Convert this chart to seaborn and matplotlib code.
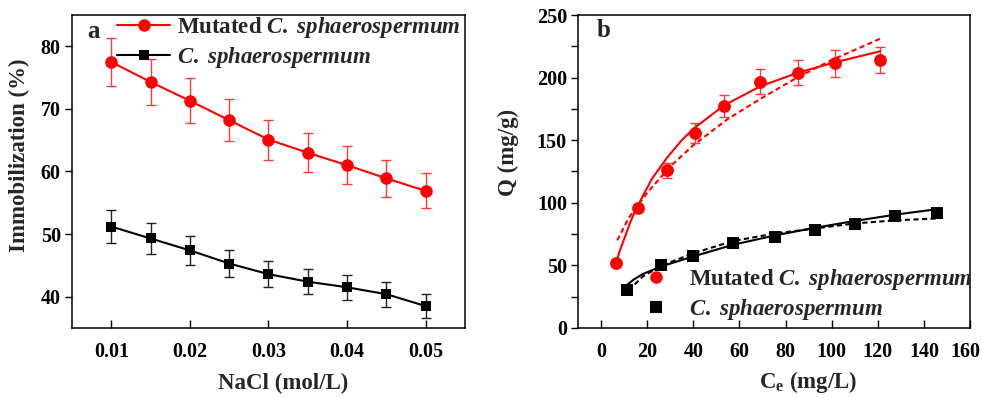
import numpy as np
import pandas as pd
import matplotlib
matplotlib.use("Agg")
import matplotlib.pyplot as plt
import matplotlib.transforms as mtransforms
from matplotlib.lines import Line2D
import seaborn as sns

# panel a: immobilization vs NaCl
nacl = [0.010, 0.015, 0.020, 0.025, 0.030, 0.035, 0.040, 0.045, 0.050]
imm_mut = [77.5, 74.3, 71.3, 68.2, 65.1, 63.0, 61.0, 58.9, 56.9]
imm_mut_err = [3.9, 3.7, 3.6, 3.4, 3.2, 3.1, 3.0, 2.9, 2.8]
imm_wt = [51.2, 49.3, 47.4, 45.3, 43.6, 42.4, 41.5, 40.4, 38.5]
imm_wt_err = [2.6, 2.5, 2.3, 2.2, 2.1, 2.0, 2.0, 2.0, 1.9]

# panel b: isotherm points
ce_mut = [6.5, 16.1, 28.6, 40.6, 53.5, 69.1, 85.5, 101.3, 120.9]
q_mut = [52.2, 96.2, 125.8, 155.4, 177.5, 196.7, 203.9, 211.3, 214.0]
q_mut_err = [0, 2, 6, 8, 9, 10, 10, 10.5, 10.5]
ce_wt = [11.1, 25.8, 39.7, 57.3, 75.3, 92.7, 110.2, 127.5, 145.6]
q_wt = [30.7, 50.6, 57.8, 68.2, 72.8, 78.6, 83.4, 89.3, 92.2]

# fitted curves
fit_mut_x = [6.5, 8, 10, 13, 16, 22, 28.6, 35, 40.6, 53.5, 69, 85.5, 101, 121]
fit_mut_solid = [52, 61, 71, 86, 98, 119, 136, 150, 160, 178, 193, 204, 212, 221]
fit_mut_dash_x = [7, 12, 20, 30, 40, 55, 70, 85, 100, 121]
fit_mut_dash = [70, 88, 108, 129, 146, 167, 184, 200, 214, 231]
fit_wt_x = [11, 14, 18, 25.8, 39.7, 57.3, 75.5, 92.7, 110, 127.5, 146]
fit_wt_solid = [34, 38.5, 43, 49, 57, 66.5, 74, 80, 85.5, 90.5, 95]
fit_wt_dash_x = [12, 18, 25.8, 39.7, 57.3, 75.5, 92.7, 110, 127.5, 146]
fit_wt_dash = [30, 41, 49.5, 59.5, 69.5, 75.5, 79.5, 83.5, 86, 87.5]

lab_mut = r'Mutated $\mathit{C.}$ $\mathit{sphaerospermum}$'
lab_wt = r'$\mathit{C.}$ $\mathit{sphaerospermum}$'

sns.set_theme(style="ticks")
plt.rcParams['font.family'] = ['Liberation Serif', 'DejaVu Serif']
plt.rcParams['font.weight'] = 'bold'
plt.rcParams['axes.labelweight'] = 'bold'
plt.rcParams['mathtext.fontset'] = 'custom'
plt.rcParams['mathtext.rm'] = 'Liberation Serif:bold'
plt.rcParams['mathtext.bf'] = 'Liberation Serif:bold'
plt.rcParams['mathtext.it'] = 'Liberation Serif:italic:bold'

fig = plt.figure(figsize=(9.82, 3.98), dpi=100)
ax1 = fig.add_axes([0.0733, 0.1759, 0.4002, 0.7864])
ax2 = fig.add_axes([0.5886, 0.1759, 0.3992, 0.7864])

red = '#ff0000'
dash = (0, (2.5, 1.6))

# ---- panel a
ax1.errorbar(nacl, imm_mut, yerr=imm_mut_err, fmt='none', ecolor='#ff3838', elinewidth=1, capsize=3.5, capthick=1)
ax1.errorbar(nacl, imm_wt, yerr=imm_wt_err, fmt='none', ecolor='#202020', elinewidth=1, capsize=3.5, capthick=1)
sns.lineplot(x=nacl, y=imm_mut, ax=ax1, color=red, lw=1.5, marker='o', markersize=9, markeredgewidth=0, label=lab_mut)
sns.lineplot(x=nacl, y=imm_wt, ax=ax1, color='black', lw=1.5, marker='s', markersize=7.7, markeredgewidth=0, label=lab_wt)
ax1.set_xlim(0.005, 0.055)
ax1.set_ylim(35, 85)
ax1.set_xticks([0.01, 0.02, 0.03, 0.04, 0.05])
ax1.set_xticklabels(['0.01', '0.02', '0.03', '0.04', '0.05'])
ax1.set_yticks([40, 50, 60, 70, 80])
ax1.set_xlabel('NaCl (mol/L)', fontsize=16.5)
ax1.set_ylabel('Immobilization (%)', fontsize=16.5)
ax1.xaxis.set_label_coords(0.536, -0.143)
ax1.yaxis.set_label_coords(-0.107, 0.553)
ax1.text(0.038, 0.927, 'a', transform=ax1.transAxes, fontsize=18, fontweight='bold', va='baseline')
ax1.legend(loc='upper left', bbox_to_anchor=(0.115, 1.0), frameon=False, fontsize=16.5,
           handlelength=2.3, handletextpad=0.3, borderpad=0, borderaxespad=0, labelspacing=0.2)

# ---- panel b
ax2.errorbar(ce_mut, q_mut, yerr=q_mut_err, fmt='none', ecolor='#ff3838', elinewidth=1, capsize=3.5, capthick=1)
sns.lineplot(x=fit_mut_x, y=fit_mut_solid, ax=ax2, color=red, lw=1.5)
sns.lineplot(x=fit_mut_dash_x, y=fit_mut_dash, ax=ax2, color=red, lw=1.5, linestyle=dash)
sns.lineplot(x=fit_wt_x, y=fit_wt_solid, ax=ax2, color='black', lw=1.5)
sns.lineplot(x=fit_wt_dash_x, y=fit_wt_dash, ax=ax2, color='black', lw=1.5, linestyle=dash)
sns.scatterplot(x=ce_mut, y=q_mut, ax=ax2, color=red, marker='o', s=85, linewidth=0, zorder=4)
sns.scatterplot(x=ce_wt, y=q_wt, ax=ax2, color='black', marker='s', s=70, linewidth=0, zorder=4)
ax2.set_xlim(-10, 160)
ax2.set_ylim(0, 250)
ax2.set_xticks(range(0, 161, 20))
ax2.set_yticks(range(0, 251, 50))
ax2.set_yticks(range(25, 250, 50), minor=True)
ax2.set_xlabel(r'$\mathrm{C_e}$ (mg/L)', fontsize=16.5)
ax2.set_ylabel('Q (mg/g)', fontsize=16.5)
ax2.xaxis.set_label_coords(0.587, -0.13)
ax2.yaxis.set_label_coords(-0.15, 0.562)
ax2.text(0.048, 0.93, 'b', transform=ax2.transAxes, fontsize=18, fontweight='bold', va='baseline')
handles = [Line2D([], [], color=red, marker='o', linestyle='none', markersize=9, markeredgewidth=0),
           Line2D([], [], color='black', marker='s', linestyle='none', markersize=8, markeredgewidth=0)]
leg = ax2.legend(handles, [lab_mut, lab_wt], loc='upper left', bbox_to_anchor=(0.17, 0.195), frameon=False,
                 fontsize=16.5, handlelength=1.0, handletextpad=0.95, borderpad=0, borderaxespad=0, labelspacing=0.2)
for t in leg.get_texts():
    t.set_clip_on(True)
    t.set_clip_box(ax2.bbox)

for ax in (ax1, ax2):
    for sp in ax.spines.values():
        sp.set_visible(True)
        sp.set_linewidth(1.1)
        sp.set_color('black')
    ax.tick_params(axis='x', which='both', direction='in', length=6, width=1, pad=10, labelsize=14.5, colors='black')
    ax.tick_params(axis='y', which='both', direction='out', length=5, width=1, pad=3, labelsize=14.5, colors='black')
    ax.grid(False)
    for lab in ax.get_xticklabels() + ax.get_yticklabels():
        lab.set_fontweight('bold')

# keep the last tick label of panel b inside the figure
last = ax2.get_xticklabels()[-1]
last.set_transform(last.get_transform() + mtransforms.ScaledTranslation(-3 / 72, 0, fig.dpi_scale_trans))

fig.savefig('out.png', dpi=100)
